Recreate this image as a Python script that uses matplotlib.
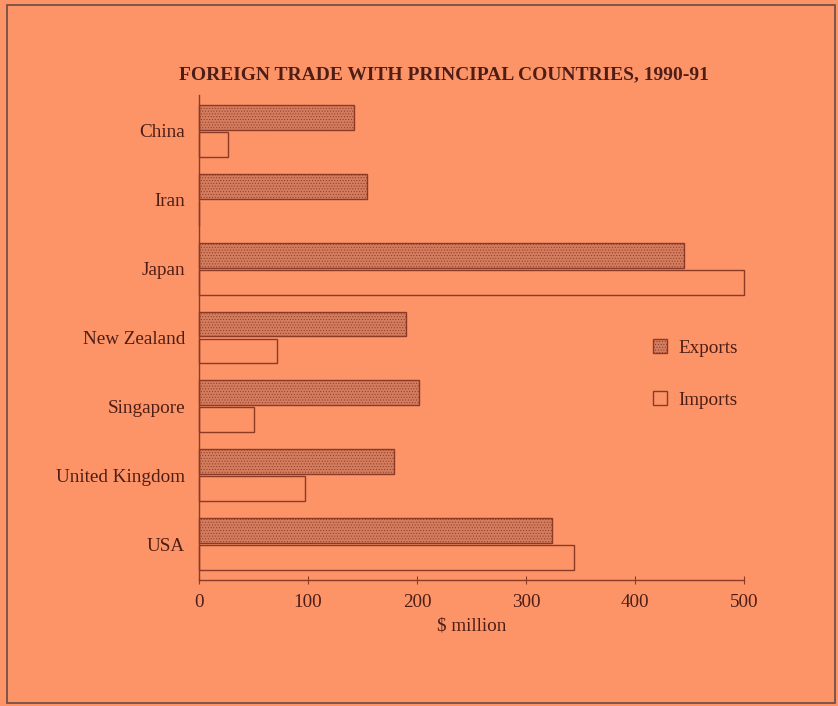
import numpy as np
import matplotlib.pyplot as plt
from matplotlib.patches import Patch, Rectangle

# Foreign trade with principal countries, 1990-91 ($ million)
countries = ['China', 'Iran', 'Japan', 'New Zealand', 'Singapore',
             'United Kingdom', 'USA']
exports = [142, 154, 445, 190, 202, 179, 324]
imports = [27, 0, 500, 72, 50, 97, 344]

bg = '#FC9468'
ink = '#4E1E16'
edge = '#8C3A26'
fill = '#D47C5E'

plt.rcParams['font.family'] = ['Liberation Serif', 'DejaVu Serif']
plt.rcParams['hatch.linewidth'] = 0.4
plt.rcParams['hatch.color'] = '#B0583E'

fig = plt.figure(figsize=(8.38, 7.06), dpi=100, facecolor=bg)
ax = fig.add_axes([199 / 838, 1 - 580 / 706, 545 / 838, 485 / 706])
ax.set_facecolor(bg)

y = np.arange(len(countries))
h = 0.36
ax.barh(y - 0.196, exports, height=h, color=fill, edgecolor=edge,
        linewidth=1.0, hatch='......', clip_on=False)
ax.barh(y + 0.196, imports, height=h, color=bg, edgecolor=edge,
        linewidth=1.0, clip_on=False)

ax.set_xlim(0, 500)
ax.set_ylim(6.52, -0.52)
ax.set_yticks(y)
ax.set_yticklabels(countries, fontsize=13.8, color=ink)
ax.tick_params(axis='y', length=0, pad=10)
ax.set_xticks([0, 100, 200, 300, 400, 500])
ax.tick_params(axis='x', direction='inout', length=6, width=0.8,
               colors=edge, labelcolor=ink, labelsize=13.8, pad=7)
ax.set_xlabel('$ million', fontsize=13.8, color=ink, labelpad=5)

for side in ['top', 'right']:
    ax.spines[side].set_visible(False)
for side in ['left', 'bottom']:
    ax.spines[side].set_color(edge)
    ax.spines[side].set_linewidth(1.0)

fig.text(444 / 838, 1 - 75 / 706, 'FOREIGN TRADE WITH PRINCIPAL COUNTRIES, 1990-91',
         ha='center', va='center', fontsize=14, fontweight='bold', color=ink)

handles = [Patch(facecolor=fill, edgecolor=edge, hatch='......', label='Exports'),
           Patch(facecolor=bg, edgecolor=edge, label='Imports')]
fig.legend(handles=handles, loc='center left',
           bbox_to_anchor=(636 / 838, 1 - 374 / 706), frameon=False,
           handlelength=0.7, handleheight=0.7, handletextpad=0.6,
           labelspacing=1.8, prop={'size': 13.8}, labelcolor=ink)

# page frame
fig.patches.append(Rectangle((7 / 838, 3 / 706), 828 / 838, 698 / 706,
                             transform=fig.transFigure, fill=False,
                             edgecolor='#6A4A40', linewidth=1.2))

fig.savefig('out.png', dpi=100, facecolor=bg)
